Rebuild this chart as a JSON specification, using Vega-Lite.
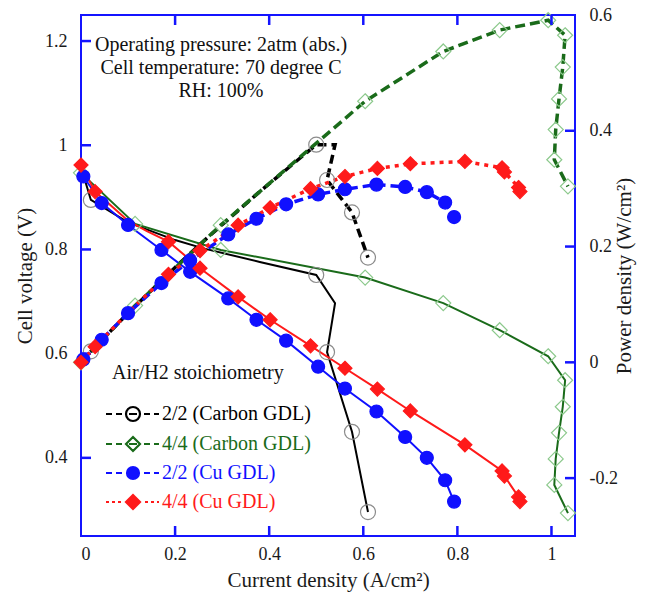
{
  "$schema": "https://vega.github.io/schema/vega-lite/v6.json",
  "width": 494,
  "height": 521,
  "autosize": {"type": "none"},
  "padding": {"left": 81, "top": 15, "right": 73, "bottom": 57},
  "background": "white",
  "datasets": {
    "curve": [
      {"s": "2/2 (Carbon GDL)", "i": 1, "x": 0.0, "v": 0.958, "p": 0.0},
      {"s": "2/2 (Carbon GDL)", "i": 2, "x": 0.021, "v": 0.895, "p": 0.019},
      {"s": "2/2 (Carbon GDL)", "i": 3, "x": 0.1, "v": 0.852, "p": 0.085},
      {"s": "2/2 (Carbon GDL)", "i": 4, "x": 0.2, "v": 0.818, "p": 0.164},
      {"s": "2/2 (Carbon GDL)", "i": 5, "x": 0.26, "v": 0.802, "p": 0.209},
      {"s": "2/2 (Carbon GDL)", "i": 6, "x": 0.38, "v": 0.776, "p": 0.295},
      {"s": "2/2 (Carbon GDL)", "i": 7, "x": 0.5, "v": 0.751, "p": 0.376},
      {"s": "2/2 (Carbon GDL)", "i": 8, "x": 0.54, "v": 0.697, "p": 0.376},
      {"s": "2/2 (Carbon GDL)", "i": 9, "x": 0.523, "v": 0.603, "p": 0.315},
      {"s": "2/2 (Carbon GDL)", "i": 10, "x": 0.576, "v": 0.45, "p": 0.259},
      {"s": "2/2 (Carbon GDL)", "i": 11, "x": 0.61, "v": 0.296, "p": 0.181},
      {"s": "4/4 (Carbon GDL)", "i": 1, "x": 0.0, "v": 0.947, "p": 0.0},
      {"s": "4/4 (Carbon GDL)", "i": 2, "x": 0.115, "v": 0.849, "p": 0.098},
      {"s": "4/4 (Carbon GDL)", "i": 3, "x": 0.297, "v": 0.799, "p": 0.237},
      {"s": "4/4 (Carbon GDL)", "i": 4, "x": 0.604, "v": 0.746, "p": 0.451},
      {"s": "4/4 (Carbon GDL)", "i": 5, "x": 0.77, "v": 0.697, "p": 0.537},
      {"s": "4/4 (Carbon GDL)", "i": 6, "x": 0.89, "v": 0.645, "p": 0.574},
      {"s": "4/4 (Carbon GDL)", "i": 7, "x": 0.993, "v": 0.595, "p": 0.591},
      {"s": "4/4 (Carbon GDL)", "i": 8, "x": 1.029, "v": 0.549, "p": 0.565},
      {"s": "4/4 (Carbon GDL)", "i": 9, "x": 1.024, "v": 0.498, "p": 0.51},
      {"s": "4/4 (Carbon GDL)", "i": 10, "x": 1.016, "v": 0.448, "p": 0.455},
      {"s": "4/4 (Carbon GDL)", "i": 11, "x": 1.009, "v": 0.398, "p": 0.402},
      {"s": "4/4 (Carbon GDL)", "i": 12, "x": 1.006, "v": 0.348, "p": 0.35},
      {"s": "4/4 (Carbon GDL)", "i": 13, "x": 1.035, "v": 0.294, "p": 0.304},
      {"s": "2/2 (Cu GDL)", "i": 1, "x": 0.005, "v": 0.94, "p": 0.005},
      {"s": "2/2 (Cu GDL)", "i": 2, "x": 0.044, "v": 0.889, "p": 0.039},
      {"s": "2/2 (Cu GDL)", "i": 3, "x": 0.1, "v": 0.847, "p": 0.085},
      {"s": "2/2 (Cu GDL)", "i": 4, "x": 0.171, "v": 0.799, "p": 0.137},
      {"s": "2/2 (Cu GDL)", "i": 5, "x": 0.232, "v": 0.757, "p": 0.176},
      {"s": "2/2 (Cu GDL)", "i": 6, "x": 0.313, "v": 0.706, "p": 0.221},
      {"s": "2/2 (Cu GDL)", "i": 7, "x": 0.373, "v": 0.665, "p": 0.248},
      {"s": "2/2 (Cu GDL)", "i": 8, "x": 0.436, "v": 0.625, "p": 0.273},
      {"s": "2/2 (Cu GDL)", "i": 9, "x": 0.504, "v": 0.575, "p": 0.29},
      {"s": "2/2 (Cu GDL)", "i": 10, "x": 0.561, "v": 0.533, "p": 0.299},
      {"s": "2/2 (Cu GDL)", "i": 11, "x": 0.628, "v": 0.489, "p": 0.307},
      {"s": "2/2 (Cu GDL)", "i": 12, "x": 0.689, "v": 0.44, "p": 0.303},
      {"s": "2/2 (Cu GDL)", "i": 13, "x": 0.735, "v": 0.4, "p": 0.294},
      {"s": "2/2 (Cu GDL)", "i": 14, "x": 0.774, "v": 0.357, "p": 0.276},
      {"s": "2/2 (Cu GDL)", "i": 15, "x": 0.793, "v": 0.316, "p": 0.251},
      {"s": "4/4 (Cu GDL)", "i": 1, "x": 0.0, "v": 0.962, "p": 0.0},
      {"s": "4/4 (Cu GDL)", "i": 2, "x": 0.03, "v": 0.911, "p": 0.027},
      {"s": "4/4 (Cu GDL)", "i": 3, "x": 0.1, "v": 0.855, "p": 0.086},
      {"s": "4/4 (Cu GDL)", "i": 4, "x": 0.14, "v": 0.835, "p": 0.117},
      {"s": "4/4 (Cu GDL)", "i": 5, "x": 0.186, "v": 0.815, "p": 0.152},
      {"s": "4/4 (Cu GDL)", "i": 6, "x": 0.253, "v": 0.764, "p": 0.193},
      {"s": "4/4 (Cu GDL)", "i": 7, "x": 0.334, "v": 0.709, "p": 0.237},
      {"s": "4/4 (Cu GDL)", "i": 8, "x": 0.402, "v": 0.665, "p": 0.267},
      {"s": "4/4 (Cu GDL)", "i": 9, "x": 0.488, "v": 0.615, "p": 0.3},
      {"s": "4/4 (Cu GDL)", "i": 10, "x": 0.561, "v": 0.572, "p": 0.321},
      {"s": "4/4 (Cu GDL)", "i": 11, "x": 0.63, "v": 0.532, "p": 0.335},
      {"s": "4/4 (Cu GDL)", "i": 12, "x": 0.7, "v": 0.49, "p": 0.343},
      {"s": "4/4 (Cu GDL)", "i": 13, "x": 0.816, "v": 0.425, "p": 0.347},
      {"s": "4/4 (Cu GDL)", "i": 14, "x": 0.895, "v": 0.375, "p": 0.336},
      {"s": "4/4 (Cu GDL)", "i": 15, "x": 0.9, "v": 0.365, "p": 0.329},
      {"s": "4/4 (Cu GDL)", "i": 16, "x": 0.93, "v": 0.325, "p": 0.302},
      {"s": "4/4 (Cu GDL)", "i": 17, "x": 0.933, "v": 0.316, "p": 0.295}
    ],
    "marker": [
      {"s": "2/2 (Carbon GDL)", "x": 0.021, "v": 0.895, "p": 0.019},
      {"s": "2/2 (Carbon GDL)", "x": 0.5, "v": 0.751, "p": 0.376},
      {"s": "2/2 (Carbon GDL)", "x": 0.523, "v": 0.603, "p": 0.315},
      {"s": "2/2 (Carbon GDL)", "x": 0.576, "v": 0.45, "p": 0.259},
      {"s": "2/2 (Carbon GDL)", "x": 0.61, "v": 0.296, "p": 0.181},
      {"s": "4/4 (Carbon GDL)", "x": 0.0, "v": 0.947, "p": 0.0},
      {"s": "4/4 (Carbon GDL)", "x": 0.115, "v": 0.849, "p": 0.098},
      {"s": "4/4 (Carbon GDL)", "x": 0.297, "v": 0.799, "p": 0.237},
      {"s": "4/4 (Carbon GDL)", "x": 0.604, "v": 0.746, "p": 0.451},
      {"s": "4/4 (Carbon GDL)", "x": 0.77, "v": 0.697, "p": 0.537},
      {"s": "4/4 (Carbon GDL)", "x": 0.89, "v": 0.645, "p": 0.574},
      {"s": "4/4 (Carbon GDL)", "x": 0.993, "v": 0.595, "p": 0.591},
      {"s": "4/4 (Carbon GDL)", "x": 1.029, "v": 0.549, "p": 0.565},
      {"s": "4/4 (Carbon GDL)", "x": 1.024, "v": 0.498, "p": 0.51},
      {"s": "4/4 (Carbon GDL)", "x": 1.016, "v": 0.448, "p": 0.455},
      {"s": "4/4 (Carbon GDL)", "x": 1.009, "v": 0.398, "p": 0.402},
      {"s": "4/4 (Carbon GDL)", "x": 1.006, "v": 0.348, "p": 0.35},
      {"s": "4/4 (Carbon GDL)", "x": 1.035, "v": 0.294, "p": 0.304},
      {"s": "2/2 (Cu GDL)", "x": 0.005, "v": 0.94, "p": 0.005},
      {"s": "2/2 (Cu GDL)", "x": 0.044, "v": 0.889, "p": 0.039},
      {"s": "2/2 (Cu GDL)", "x": 0.1, "v": 0.847, "p": 0.085},
      {"s": "2/2 (Cu GDL)", "x": 0.171, "v": 0.799, "p": 0.137},
      {"s": "2/2 (Cu GDL)", "x": 0.232, "v": 0.757, "p": 0.176},
      {"s": "2/2 (Cu GDL)", "x": 0.313, "v": 0.706, "p": 0.221},
      {"s": "2/2 (Cu GDL)", "x": 0.373, "v": 0.665, "p": 0.248},
      {"s": "2/2 (Cu GDL)", "x": 0.436, "v": 0.625, "p": 0.273},
      {"s": "2/2 (Cu GDL)", "x": 0.504, "v": 0.575, "p": 0.29},
      {"s": "2/2 (Cu GDL)", "x": 0.561, "v": 0.533, "p": 0.299},
      {"s": "2/2 (Cu GDL)", "x": 0.628, "v": 0.489, "p": 0.307},
      {"s": "2/2 (Cu GDL)", "x": 0.689, "v": 0.44, "p": 0.303},
      {"s": "2/2 (Cu GDL)", "x": 0.735, "v": 0.4, "p": 0.294},
      {"s": "2/2 (Cu GDL)", "x": 0.774, "v": 0.357, "p": 0.276},
      {"s": "2/2 (Cu GDL)", "x": 0.793, "v": 0.316, "p": 0.251},
      {"s": "4/4 (Cu GDL)", "x": 0.0, "v": 0.962, "p": 0.0},
      {"s": "4/4 (Cu GDL)", "x": 0.03, "v": 0.911, "p": 0.027},
      {"s": "4/4 (Cu GDL)", "x": 0.186, "v": 0.815, "p": 0.152},
      {"s": "4/4 (Cu GDL)", "x": 0.253, "v": 0.764, "p": 0.193},
      {"s": "4/4 (Cu GDL)", "x": 0.334, "v": 0.709, "p": 0.237},
      {"s": "4/4 (Cu GDL)", "x": 0.402, "v": 0.665, "p": 0.267},
      {"s": "4/4 (Cu GDL)", "x": 0.488, "v": 0.615, "p": 0.3},
      {"s": "4/4 (Cu GDL)", "x": 0.561, "v": 0.572, "p": 0.321},
      {"s": "4/4 (Cu GDL)", "x": 0.63, "v": 0.532, "p": 0.335},
      {"s": "4/4 (Cu GDL)", "x": 0.7, "v": 0.49, "p": 0.343},
      {"s": "4/4 (Cu GDL)", "x": 0.816, "v": 0.425, "p": 0.347},
      {"s": "4/4 (Cu GDL)", "x": 0.895, "v": 0.375, "p": 0.336},
      {"s": "4/4 (Cu GDL)", "x": 0.9, "v": 0.365, "p": 0.329},
      {"s": "4/4 (Cu GDL)", "x": 0.93, "v": 0.325, "p": 0.302},
      {"s": "4/4 (Cu GDL)", "x": 0.933, "v": 0.316, "p": 0.295}
    ],
    "xticks": [{"t": 0.2}, {"t": 0.4}, {"t": 0.6}, {"t": 0.8}, {"t": 1.0}],
    "vticks": [{"t": 0.4}, {"t": 0.6}, {"t": 0.8}, {"t": 1.0}, {"t": 1.2}],
    "pticks": [{"t": -0.2}, {"t": 0.0}, {"t": 0.2}, {"t": 0.4}]
  },
  "config": {
    "view": {"stroke": "#1414ff", "strokeWidth": 2},
    "font": "Liberation Serif",
    "axis": {
      "domain": false,
      "ticks": false,
      "grid": false,
      "labelFont": "Liberation Serif",
      "labelFontSize": 18,
      "labelColor": "#1a1a1a",
      "titleFont": "Liberation Serif",
      "titleFontSize": 21,
      "titleFontWeight": "normal",
      "titleColor": "#1a1a1a"
    }
  },
  "layer": [
    {
      "layer": [
        {
          "data": {"name": "curve"},
          "mark": {"type": "line", "strokeWidth": 2},
          "encoding": {
            "x": {"field": "x", "type": "quantitative", "scale": {"domain": [0, 1.05], "nice": false, "zero": false},
              "axis": {"orient": "bottom", "values": [0, 0.2, 0.4, 0.6, 0.8, 1], "labelExpr": "'' + datum.value", "labelPadding": 9, "title": "Current density (A/cm²)", "titlePadding": 6}},
            "y": {"field": "v", "type": "quantitative", "scale": {"domain": [0.25, 1.25], "nice": false, "zero": false},
              "axis": {"orient": "left", "values": [0.4, 0.6, 0.8, 1, 1.2], "labelExpr": "'' + datum.value", "labelPadding": 14, "title": "Cell voltage (V)", "titlePadding": 9}},
            "order": {"field": "i", "type": "quantitative"},
            "stroke": {"field": "s", "type": "nominal",
              "scale": {"domain": ["2/2 (Carbon GDL)", "4/4 (Carbon GDL)", "2/2 (Cu GDL)", "4/4 (Cu GDL)"], "range": ["#000000", "#1a6b1a", "#1010ff", "#ff1a1a"]},
              "legend": {
                "orient": "none", "legendX": 31, "legendY": 348,
                "title": "Air/H2 stoichiometry",
                "titleFont": "Liberation Serif", "titleFontSize": 20, "titleFontWeight": "normal", "titleColor": "#111111", "titlePadding": 21,
                "labelFont": "Liberation Serif", "labelFontSize": 20, "labelOffset": 30,
                "rowPadding": 6, "padding": 0,
                "symbolSize": 4, "symbolStrokeWidth": 2.2,
                "encode": {
                  "symbols": {"update": {
                    "shape": {"signal": "datum.value === '2/2 (Carbon GDL)' ? 'M-16,0H-10M-6,0H0M7,0H15M22,0H28M32,0H37M4,0A7,7,0,1,0,18,0A7,7,0,1,0,4,0Z' : datum.value === '4/4 (Carbon GDL)' ? 'M-16,0H-10M-6,0H0M7,0H15M22,0H28M32,0H37M11,-7L18,0L11,7L4,0Z' : datum.value === '2/2 (Cu GDL)' ? 'M-16,0H-10M-6,0H0M22,0H28M32,0H37M5,0A6,6,0,1,0,17,0A6,6,0,1,0,5,0Z' : 'M-16,0H-13M-10,0H-7M-4,0H-1M23,0H26M29,0H32M35,0H37M11,-7L18,0L11,7L4,0Z'"},
                    "size": {"value": 4},
                    "fill": {"signal": "datum.value === '2/2 (Cu GDL)' ? '#1010ff' : datum.value === '4/4 (Cu GDL)' ? '#ff1a1a' : 'transparent'"},
                    "strokeWidth": {"value": 2.2},
                    "strokeDash": {"value": []}
                  }},
                  "labels": {"update": {"fill": {"signal": "scale('stroke', datum.value)"}}}
                }
              }
            }
          }
        },
        {
          "data": {"name": "marker"},
          "mark": {"type": "point", "filled": false, "strokeWidth": 1.2, "opacity": 1},
          "encoding": {
            "x": {"field": "x", "type": "quantitative"},
            "y": {"field": "v", "type": "quantitative"},
            "size": {"value": 4},
            "shape": {"field": "s", "type": "nominal", "legend": null,
              "scale": {"domain": ["4/4 (Carbon GDL)", "2/2 (Carbon GDL)", "2/2 (Cu GDL)", "4/4 (Cu GDL)"],
                "range": ["M0,-7.5L7.5,0L0,7.5L-7.5,0Z", "M-7.5,0A7.5,7.5,0,1,0,7.5,0A7.5,7.5,0,1,0,-7.5,0Z", "M-6.5,0A6.5,6.5,0,1,0,6.5,0A6.5,6.5,0,1,0,-6.5,0Z", "M0,-7L7,0L0,7L-7,0Z"]}},
            "fill": {"field": "s", "type": "nominal", "legend": null,
              "scale": {"domain": ["4/4 (Carbon GDL)", "2/2 (Carbon GDL)", "2/2 (Cu GDL)", "4/4 (Cu GDL)"], "range": ["transparent", "transparent", "#1010ff", "#ff1a1a"]}},
            "color": {"field": "s", "type": "nominal", "legend": null,
              "scale": {"domain": ["4/4 (Carbon GDL)", "2/2 (Carbon GDL)", "2/2 (Cu GDL)", "4/4 (Cu GDL)"], "range": ["#8cc98c", "#8c8c8c", "#1010ff", "#ff1a1a"]}}
          }
        },
        {
          "data": {"name": "xticks"},
          "mark": {"type": "tick", "orient": "vertical", "size": 10, "thickness": 2.5, "color": "#1414ff", "opacity": 1},
          "encoding": {
            "x": {"field": "t", "type": "quantitative", "title": "Current density (A/cm²)"},
            "y": {"datum": 0.2596, "type": "quantitative"}
          }
        },
        {
          "data": {"name": "vticks"},
          "mark": {"type": "tick", "orient": "horizontal", "size": 10, "thickness": 2.5, "color": "#1414ff", "opacity": 1},
          "encoding": {
            "y": {"field": "t", "type": "quantitative", "title": "Cell voltage (V)"},
            "x": {"datum": 0.0106, "type": "quantitative"}
          }
        },
        {
          "data": {"values": [{}]},
          "mark": {"type": "text", "font": "Liberation Serif", "fontSize": 20, "lineHeight": 23, "align": "center", "baseline": "middle", "color": "#111111"},
          "encoding": {
            "x": {"datum": 0.2976, "type": "quantitative"},
            "y": {"datum": 1.1924, "type": "quantitative"},
            "text": {"value": ["Operating pressure: 2atm (abs.)", "Cell temperature: 70 degree C", "RH: 100%"]}
          }
        }
      ]
    },
    {
      "layer": [
        {
          "data": {"name": "curve"},
          "mark": {"type": "line", "strokeWidth": 3.5},
          "encoding": {
            "x": {"field": "x", "type": "quantitative", "scale": {"domain": [0, 1.05], "nice": false, "zero": false},
              "axis": {"orient": "top", "values": [0.2, 0.4, 0.6, 0.8, 1], "labels": false, "title": null}},
            "y": {"field": "p", "type": "quantitative", "scale": {"domain": [-0.3, 0.6], "nice": false, "zero": false},
              "axis": {"orient": "right", "values": [-0.2, 0, 0.2, 0.4, 0.6], "labelExpr": "'' + datum.value", "labelPadding": 14, "title": "Power density (W/cm²)", "titleAngle": 270, "titleBaseline": "top", "titlePadding": -4}},
            "order": {"field": "i", "type": "quantitative"},
            "stroke": {"field": "s", "type": "nominal"},
            "strokeDash": {"field": "s", "type": "nominal", "legend": null,
              "scale": {"domain": ["4/4 (Carbon GDL)", "2/2 (Carbon GDL)", "2/2 (Cu GDL)", "4/4 (Cu GDL)"], "range": [[10, 5], [9, 5], [9, 5], [4, 5]]}}
          }
        },
        {
          "data": {"name": "marker"},
          "mark": {"type": "point", "filled": false, "strokeWidth": 1.2, "opacity": 1},
          "encoding": {
            "x": {"field": "x", "type": "quantitative"},
            "y": {"field": "p", "type": "quantitative"},
            "size": {"value": 4},
            "shape": {"field": "s", "type": "nominal", "legend": null},
            "fill": {"field": "s", "type": "nominal", "legend": null},
            "color": {"field": "s", "type": "nominal", "legend": null}
          }
        },
        {
          "data": {"name": "xticks"},
          "mark": {"type": "tick", "orient": "vertical", "size": 10, "thickness": 2.5, "color": "#1414ff", "opacity": 1},
          "encoding": {
            "x": {"field": "t", "type": "quantitative", "title": null},
            "y": {"datum": 0.5914, "type": "quantitative"}
          }
        },
        {
          "data": {"name": "pticks"},
          "mark": {"type": "tick", "orient": "horizontal", "size": 10, "thickness": 2.5, "color": "#1414ff", "opacity": 1},
          "encoding": {
            "y": {"field": "t", "type": "quantitative", "title": "Power density (W/cm²)"},
            "x": {"datum": 1.0394, "type": "quantitative"}
          }
        }
      ]
    }
  ],
  "resolve": {"scale": {"x": "independent", "y": "independent"}}
}
